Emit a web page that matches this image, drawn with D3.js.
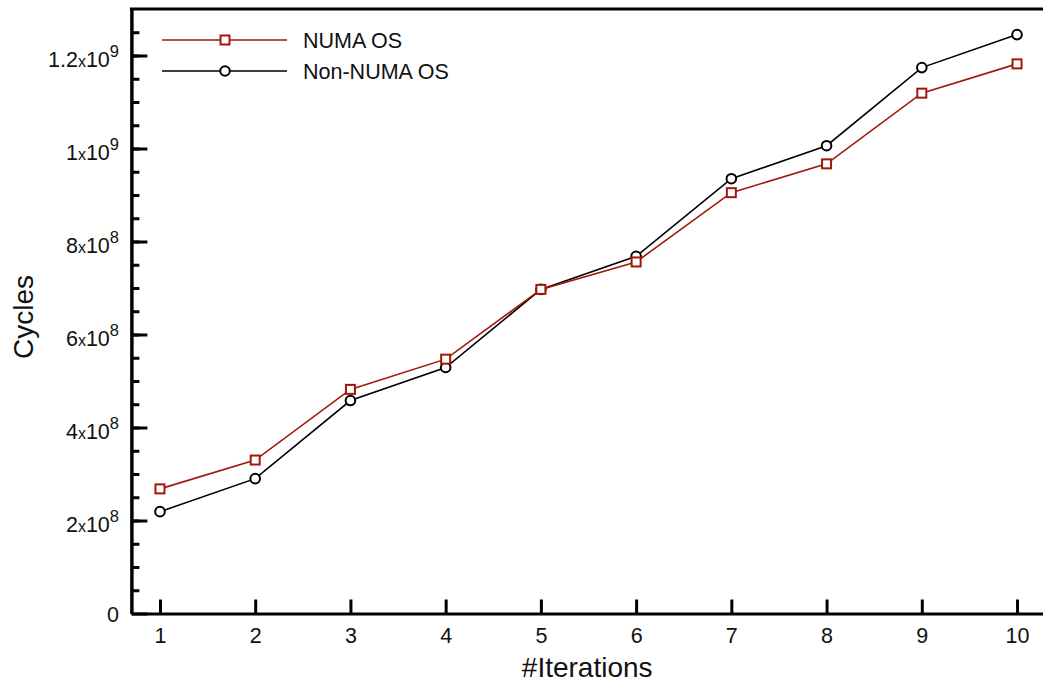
<!DOCTYPE html>
<html lang="en">
<head>
    <meta charset="UTF-8">
    <title>Cycles vs iterations</title>
    <script src="https://d3js.org/d3.v7.min.js"></script>
    <style>
        body { margin: 0; background: #fff; }
        svg { display: block; font-family: "Liberation Sans", Arial, Helvetica, sans-serif; }
        .axis path, .axis line { stroke: #000; fill: none; }
        .axis path { stroke-width: 3; }
        .axis line { stroke-width: 3; }
        .tick-label { font-size: 21.5px; fill: #111; }
        .title { font-size: 28px; fill: #111; }
        .legend text { font-size: 21.5px; fill: #111; }
    </style>
</head>
<body>
<svg id="chart" width="1043" height="686"></svg>
<script>
// data (cycles, in units of 1e8)
var iterations = [1, 2, 3, 4, 5, 6, 7, 8, 9, 10];
var numaOS    = [2.68, 3.30, 4.82, 5.47, 6.97, 7.56, 9.05, 9.67, 11.19, 11.82];
var nonNumaOS = [2.19, 2.90, 4.58, 5.29, 6.97, 7.68, 9.35, 10.06, 11.74, 12.45];
var yTicks = [0, 2, 4, 6, 8, 10, 12];          // x 1e8
var yLabels = [["0"], ["2", "8"], ["4", "8"], ["6", "8"], ["8", "8"], ["1", "9"], ["1.2", "9"]];

var series = [
    { name: "NUMA OS", values: numaOS, color: "#a0180a", marker: "square" },
    { name: "Non-NUMA OS", values: nonNumaOS, color: "#000000", marker: "circle" }
];

var svg = d3.select("#chart");

var x = d3.scaleLinear().domain([0.7, 10.3]).range([131.4, 1045.6]);
var y = d3.scaleLinear().domain([0, 13]).range([613.5, 9]);

// minor y ticks
svg.append("g")
   .attr("class", "axis")
   .attr("transform", "translate(" + x(0.7) + ",0)")
   .call(d3.axisLeft(y).tickValues(d3.range(0.5, 13, 0.5)).tickSize(-8).tickSizeOuter(0).tickFormat(""))
   .call(function(g) { g.selectAll("line").attr("stroke-width", 2); });

// major y ticks
svg.append("g")
   .attr("class", "axis")
   .attr("transform", "translate(" + x(0.7) + ",0)")
   .call(d3.axisLeft(y).tickValues(yTicks).tickSize(-16).tickSizeOuter(0).tickFormat(""));

// x axis
svg.append("g")
   .attr("class", "axis")
   .attr("transform", "translate(0," + y(0) + ")")
   .call(d3.axisBottom(x).tickValues(iterations).tickSize(-14).tickSizeOuter(0).tickPadding(14))
   .call(function(g) {
       g.selectAll("text").attr("class", "tick-label").attr("fill", "#111");
       g.selectAll(".tick line").attr("stroke-width", 3);
   });

// top frame line
svg.append("line")
   .attr("x1", x(0.7) - 1.5).attr("x2", x(10.3))
   .attr("y1", y(13)).attr("y2", y(13))
   .attr("stroke", "#000").attr("stroke-width", 3);

// y tick labels with exponent notation
yTicks.forEach(function(t, i) {
    var lab = yLabels[i];
    var txt = svg.append("text")
        .attr("class", "tick-label")
        .attr("text-anchor", "end")
        .attr("x", 119);
    if (lab.length === 1) {
        txt.attr("y", y(t) + 8).text(lab[0]);
        return;
    }
    txt.attr("y", y(t) + 11);
    txt.append("tspan").text(lab[0]);
    txt.append("tspan").attr("font-size", "16px").text("x");
    txt.append("tspan").text("10");
    txt.append("tspan").attr("font-size", "16.5px").attr("dy", -10).text(lab[1]);
});

// axis titles
svg.append("text")
   .attr("class", "title")
   .attr("text-anchor", "middle")
   .attr("x", (x(0.7) + 1043) / 2)
   .attr("y", 677)
   .text("#Iterations");

svg.append("text")
   .attr("class", "title")
   .attr("text-anchor", "middle")
   .attr("transform", "translate(33,317) rotate(-90)")
   .text("Cycles");

// lines and markers
var line = d3.line()
    .x(function(d, i) { return x(iterations[i]); })
    .y(function(d) { return y(d); });

function drawMarker(g, type, color, cx, cy) {
    if (type === "square") {
        g.append("rect")
         .attr("x", cx - 4.5).attr("y", cy - 4.5)
         .attr("width", 9).attr("height", 9)
         .attr("fill", "#fff").attr("stroke", color).attr("stroke-width", 2);
    } else {
        g.append("circle")
         .attr("cx", cx).attr("cy", cy).attr("r", 4.8)
         .attr("fill", "#fff").attr("stroke", color).attr("stroke-width", 2);
    }
}

series.slice().reverse().forEach(function(s) {
    var g = svg.append("g");
    g.append("path")
     .datum(s.values)
     .attr("d", line)
     .attr("fill", "none")
     .attr("stroke", s.color)
     .attr("stroke-width", 1.6);
    s.values.forEach(function(v, i) {
        drawMarker(g, s.marker, s.color, x(iterations[i]), y(v));
    });
});

// legend
var legend = svg.append("g").attr("class", "legend");
series.forEach(function(s, i) {
    var ly = 40 + i * 31;
    legend.append("line")
          .attr("x1", 162).attr("x2", 287)
          .attr("y1", ly).attr("y2", ly)
          .attr("stroke", s.color).attr("stroke-width", 1.6);
    drawMarker(legend, s.marker, s.color, 225, ly);
    legend.append("text")
          .attr("x", 303).attr("y", ly + 7.5)
          .text(s.name);
});
</script>
</body>
</html>
